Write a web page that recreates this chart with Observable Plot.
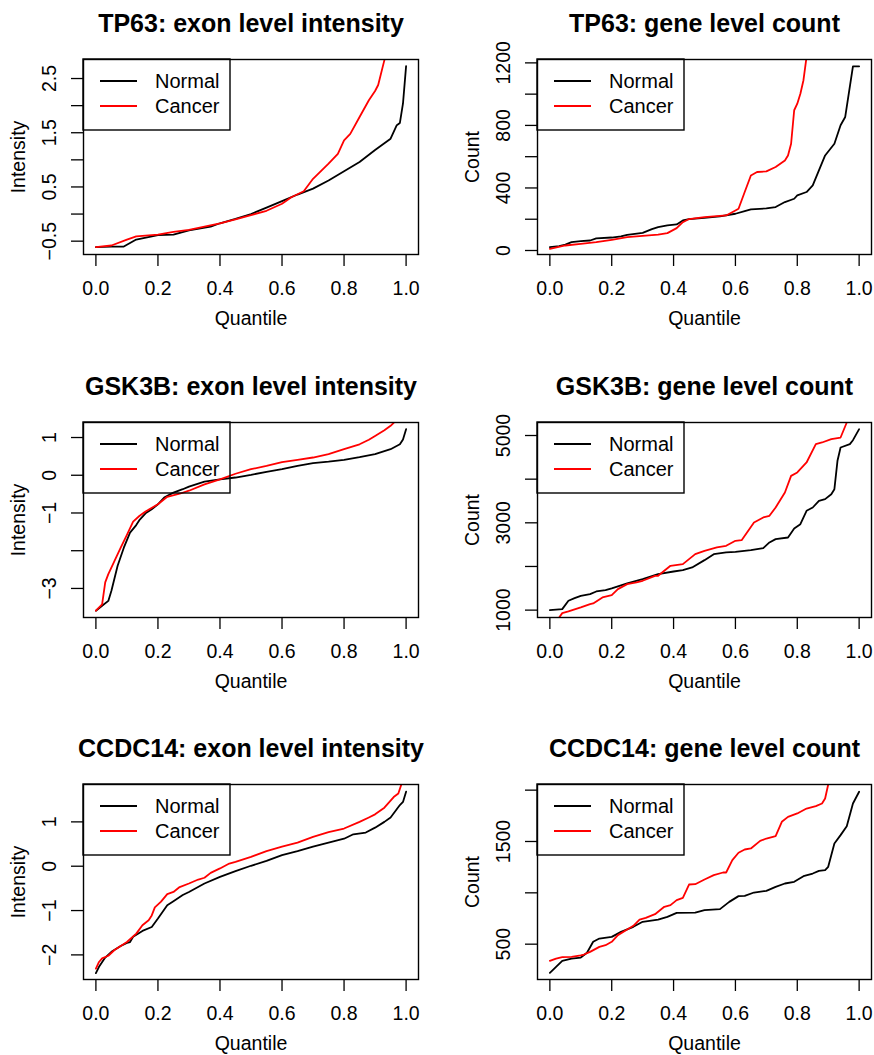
<!DOCTYPE html>
<html>
<head>
<meta charset="utf-8">
<script src="https://cdn.jsdelivr.net/npm/d3@7"></script>
<script src="https://cdn.jsdelivr.net/npm/@observablehq/plot@0.6"></script>
<style>
  html, body { margin: 0; padding: 0; background: #fff; }
  #wrap { position: relative; width: 874px; height: 1055px; overflow: hidden; background: #fff; }
  #wrap svg { position: absolute; }
</style>
</head>
<body>
<div id="wrap"></div>
<script>
// ---------- data ----------
const seriesNames = ["Normal", "Cancer"];
const seriesColors = ["#000000", "#ff0000"];
const xTicks = [0, 0.2, 0.4, 0.6, 0.8, 1.0];

// TP63 exon level intensity
const tp63ExonNormalQ = [0,0.05,0.09,0.13,0.2,0.25,0.3,0.37,0.4,0.45,0.5,0.55,0.6,0.65,0.7,0.75,0.8,0.85,0.9,0.95,0.97,0.98,0.99,1.0];
const tp63ExonNormal  = [-0.61,-0.6,-0.6,-0.47,-0.39,-0.38,-0.3,-0.23,-0.17,-0.09,0.0,0.12,0.24,0.36,0.47,0.62,0.79,0.96,1.18,1.39,1.64,1.68,2.04,2.73];
const tp63ExonCancerQ = [0,0.05,0.1,0.13,0.2,0.25,0.3,0.35,0.4,0.45,0.5,0.55,0.6,0.63,0.67,0.7,0.75,0.78,0.8,0.82,0.85,0.88,0.9,0.91,0.93,0.96,1.0];
const tp63ExonCancer  = [-0.61,-0.58,-0.47,-0.41,-0.38,-0.33,-0.29,-0.23,-0.17,-0.1,-0.02,0.06,0.19,0.31,0.42,0.65,0.93,1.11,1.36,1.48,1.79,2.1,2.27,2.38,2.84,3.3,4.0];

// TP63 gene level count
const tp63CountNormalQ = [0,0.03,0.05,0.07,0.1,0.13,0.15,0.2,0.23,0.25,0.3,0.33,0.35,0.38,0.41,0.43,0.45,0.5,0.55,0.6,0.63,0.65,0.7,0.73,0.76,0.79,0.8,0.83,0.85,0.87,0.89,0.92,0.94,0.955,0.98,1.0];
const tp63CountNormal  = [21,28,38,53,60,64,77,83,90,100,113,137,149,160,167,192,201,209,218,235,252,263,269,278,310,331,352,374,416,512,608,683,801,854,1178,1178];
const tp63CountCancerQ = [0,0.05,0.1,0.15,0.2,0.25,0.3,0.35,0.38,0.41,0.43,0.45,0.5,0.57,0.6,0.61,0.63,0.65,0.67,0.7,0.73,0.76,0.77,0.78,0.79,0.8,0.81,0.82,0.83,0.9,1.0];
const tp63CountCancer  = [11,32,43,53,68,85,94,102,111,143,181,201,213,224,256,267,374,480,502,506,534,576,608,683,897,939,1003,1089,1238,1600,2100];

// GSK3B exon level intensity
const gsk3bExonNormalQ = [0,0.02,0.04,0.05,0.07,0.09,0.11,0.13,0.14,0.16,0.18,0.2,0.22,0.25,0.28,0.3,0.35,0.4,0.45,0.5,0.55,0.6,0.65,0.7,0.75,0.8,0.85,0.9,0.95,0.98,0.99,1.0];
const gsk3bExonNormal  = [-3.59,-3.46,-3.33,-3.06,-2.4,-1.92,-1.52,-1.32,-1.19,-1.01,-0.9,-0.77,-0.59,-0.46,-0.37,-0.3,-0.17,-0.11,-0.06,0.01,0.09,0.16,0.25,0.32,0.36,0.41,0.48,0.56,0.69,0.82,0.95,1.22];
const gsk3bExonCancerQ = [0,0.02,0.03,0.04,0.06,0.08,0.1,0.12,0.14,0.16,0.2,0.23,0.27,0.3,0.35,0.4,0.45,0.5,0.55,0.6,0.65,0.7,0.75,0.8,0.85,0.88,0.9,0.93,0.95,0.96,1.0];
const gsk3bExonCancer  = [-3.59,-3.42,-2.84,-2.62,-2.27,-1.92,-1.58,-1.23,-1.08,-0.96,-0.77,-0.57,-0.49,-0.41,-0.24,-0.11,0.04,0.16,0.25,0.35,0.41,0.47,0.56,0.69,0.82,0.94,1.04,1.19,1.31,1.39,2.0];

// GSK3B gene level count
const gsk3bCountNormalQ = [0,0.04,0.06,0.08,0.1,0.13,0.15,0.18,0.2,0.25,0.3,0.35,0.4,0.43,0.46,0.5,0.53,0.57,0.6,0.65,0.69,0.71,0.73,0.77,0.79,0.81,0.83,0.85,0.87,0.89,0.91,0.92,0.93,0.94,0.97,0.98,1.0];
const gsk3bCountNormal  = [1000,1023,1214,1275,1328,1366,1427,1458,1496,1611,1710,1824,1885,1916,1977,2145,2282,2321,2336,2374,2420,2550,2626,2664,2870,2969,3275,3351,3504,3542,3656,3771,4420,4725,4802,4893,5145];
const gsk3bCountCancerQ = [0,0.03,0.04,0.06,0.1,0.13,0.14,0.17,0.2,0.22,0.25,0.28,0.3,0.34,0.35,0.39,0.43,0.47,0.5,0.54,0.57,0.6,0.62,0.66,0.69,0.71,0.73,0.76,0.78,0.8,0.83,0.86,0.88,0.91,0.94,0.96,1.0];
const gsk3bCountCancer  = [600,830,931,969,1061,1137,1153,1290,1344,1481,1595,1634,1672,1786,1786,2015,2053,2282,2359,2435,2473,2588,2603,3008,3122,3160,3351,3695,4076,4153,4382,4802,4840,4916,4954,5298,6500];

// CCDC14 exon level intensity
const ccdc14ExonNormalQ = [0,0.01,0.03,0.05,0.08,0.1,0.11,0.12,0.15,0.18,0.2,0.23,0.25,0.28,0.3,0.35,0.4,0.45,0.5,0.55,0.6,0.65,0.7,0.75,0.8,0.83,0.87,0.9,0.93,0.95,0.98,0.99,1.0];
const ccdc14ExonNormal  = [-2.41,-2.27,-2.06,-1.93,-1.8,-1.73,-1.71,-1.59,-1.46,-1.37,-1.18,-0.88,-0.79,-0.65,-0.58,-0.39,-0.24,-0.11,0.01,0.12,0.25,0.34,0.44,0.53,0.62,0.72,0.76,0.87,1.0,1.1,1.38,1.45,1.68];
const ccdc14ExonCancerQ = [0,0.01,0.02,0.04,0.06,0.08,0.1,0.13,0.15,0.17,0.18,0.19,0.21,0.23,0.25,0.27,0.3,0.33,0.35,0.37,0.4,0.43,0.45,0.5,0.55,0.6,0.65,0.7,0.75,0.8,0.85,0.88,0.9,0.93,0.96,0.975,0.985,1.0];
const ccdc14ExonCancer  = [-2.31,-2.16,-2.08,-2.02,-1.89,-1.8,-1.71,-1.52,-1.33,-1.22,-1.11,-0.93,-0.8,-0.63,-0.58,-0.47,-0.39,-0.3,-0.26,-0.15,-0.05,0.06,0.1,0.21,0.34,0.44,0.53,0.66,0.77,0.85,1.0,1.1,1.17,1.32,1.56,1.64,1.85,2.3];

// CCDC14 gene level count
const ccdc14CountNormalQ = [0,0.02,0.04,0.07,0.1,0.12,0.14,0.16,0.2,0.23,0.27,0.3,0.35,0.38,0.41,0.47,0.5,0.55,0.58,0.61,0.63,0.66,0.7,0.73,0.76,0.79,0.82,0.85,0.87,0.89,0.9,0.92,0.94,0.96,0.98,1.0];
const ccdc14CountNormal  = [221,279,338,360,370,416,523,555,571,620,669,718,740,766,805,808,831,841,912,968,971,1003,1019,1058,1091,1107,1162,1188,1214,1221,1253,1481,1562,1649,1870,1984];
const ccdc14CountCancerQ = [0,0.02,0.04,0.07,0.1,0.11,0.13,0.16,0.18,0.2,0.22,0.25,0.27,0.29,0.31,0.34,0.37,0.39,0.41,0.43,0.45,0.47,0.5,0.53,0.56,0.57,0.59,0.61,0.63,0.65,0.68,0.7,0.73,0.75,0.77,0.8,0.83,0.86,0.88,0.89,0.9,1.0];
const ccdc14CountCancer  = [338,360,373,377,390,399,425,474,490,523,588,643,679,740,756,792,864,880,929,951,1081,1084,1130,1172,1198,1198,1318,1390,1422,1432,1506,1529,1552,1692,1740,1773,1821,1844,1870,1919,2055,2600];

// Panel titles, axis labels and y ticks
const panelTitles = ["TP63: exon level intensity", "TP63: gene level count",
                     "GSK3B: exon level intensity", "GSK3B: gene level count",
                     "CCDC14: exon level intensity", "CCDC14: gene level count"];
const yTitles = ["Intensity", "Count", "Intensity", "Count", "Intensity", "Count"];
const xTitle = "Quantile";
const yTickSets = [
  [-0.5, 0, 0.5, 1, 1.5, 2, 2.5],
  [0, 200, 400, 600, 800, 1000, 1200],
  [-3, -2, -1, 0, 1],
  [1000, 2000, 3000, 4000, 5000],
  [-2, -1, 0, 1],
  [500, 1000, 1500, 2000]
];
const yLabelSets = [
  [-0.5, 0.5, 1.5, 2.5],
  [0, 400, 800, 1200],
  [-3, -1, 0, 1],
  [1000, 3000, 5000],
  [-2, -1, 0, 1],
  [500, 1500]
];
const yLabelFormats = [".1f", "d", "d", "d", "d", "d"];
const yDomains = [
  [-0.746, 2.851],
  [-25.6, 1221.6],
  [-3.77, 1.398],
  [831, 5298],
  [-2.555, 1.843],
  [156, 2055]
];
const panelSeries = [
  [[tp63ExonNormalQ, tp63ExonNormal], [tp63ExonCancerQ, tp63ExonCancer]],
  [[tp63CountNormalQ, tp63CountNormal], [tp63CountCancerQ, tp63CountCancer]],
  [[gsk3bExonNormalQ, gsk3bExonNormal], [gsk3bExonCancerQ, gsk3bExonCancer]],
  [[gsk3bCountNormalQ, gsk3bCountNormal], [gsk3bCountCancerQ, gsk3bCountCancer]],
  [[ccdc14ExonNormalQ, ccdc14ExonNormal], [ccdc14ExonCancerQ, ccdc14ExonCancer]],
  [[ccdc14CountNormalQ, ccdc14CountNormal], [ccdc14CountCancerQ, ccdc14CountCancer]]
];

// ---------- drawing ----------
const FONT = "'Liberation Sans', Arial, Helvetica, sans-serif";
const FS = 19.5;
const wrap = document.getElementById("wrap");
const cellW = 437, cellH = 362, rowPitch = 362.5;

function fmtTick(v, f) {
  return d3.format(f)(v).replace("-", "\u2212");
}

panelTitles.forEach((title, i) => {
  const col = i % 2, row = Math.floor(i / 2);
  const ml = col === 0 ? 83 : 100;
  const mr = col === 0 ? 19 : 3;
  const mt = 59, mb = 108;
  const lineMarks = panelSeries[i].map(([qs, vs], s) =>
    Plot.line(qs.map((q, k) => ({q, v: vs[k]})), {
      x: "q", y: "v", stroke: seriesColors[s], strokeWidth: 1.8, clip: true
    })
  );
  const labels = yLabelSets[i].map(v => ({v, t: fmtTick(v, yLabelFormats[i])}));
  const svg = Plot.plot({
    width: cellW, height: cellH,
    marginLeft: ml, marginRight: mr, marginTop: mt, marginBottom: mb,
    x: {domain: [-0.04, 1.04]},
    y: {domain: yDomains[i]},
    style: {fontFamily: FONT, background: "transparent", color: "#000", overflow: "visible"},
    marks: [
      ...lineMarks,
      Plot.frame({stroke: "#000", strokeWidth: 1.4}),
      Plot.axisX({ticks: xTicks, tickSize: 12, tickPadding: 15, tickFormat: d3.format(".1f"),
                  fontSize: FS, strokeWidth: 1.3, label: null}),
      Plot.axisY({ticks: yTickSets[i], tickSize: 12, tickFormat: () => "", strokeWidth: 1.3, label: null}),
      Plot.text(labels, {y: "v", text: "t", frameAnchor: "left", dx: -34, rotate: -90,
                         textAnchor: "middle", lineAnchor: "middle", fontSize: FS, fill: "#000"}),
      Plot.text([title], {frameAnchor: "top", dy: -35.6, textAnchor: "middle", lineAnchor: "middle",
                          fontSize: 25, fontWeight: "bold", fill: "#000"}),
      Plot.text([xTitle], {frameAnchor: "bottom", dy: 64.5, textAnchor: "middle", lineAnchor: "middle",
                           fontSize: FS, fill: "#000"}),
      Plot.text([yTitles[i]], {frameAnchor: "left", dx: -64.5, rotate: -90, textAnchor: "middle",
                               lineAnchor: "middle", fontSize: FS, fill: "#000"})
    ]
  });
  svg.style.left = (col * cellW) + "px";
  svg.style.top = (row * rowPitch) + "px";

  // legend (top-left, transparent background, as in R's legend())
  const g = d3.select(svg).append("g").attr("transform", `translate(${ml},${mt})`);
  g.append("rect").attr("x", 0).attr("y", 0).attr("width", 147).attr("height", 71)
    .attr("fill", "none").attr("stroke", "#000").attr("stroke-width", 1.4);
  seriesNames.forEach((name, s) => {
    const yy = 22 + s * 25;
    g.append("line").attr("x1", 17).attr("x2", 54).attr("y1", yy).attr("y2", yy)
      .attr("stroke", seriesColors[s]).attr("stroke-width", 1.8);
    g.append("text").attr("x", 72).attr("y", yy).attr("dy", "0.36em")
      .attr("text-anchor", "start")
      .attr("font-family", FONT).attr("font-size", 20).attr("fill", "#000").text(name);
  });
  wrap.appendChild(svg);
});
</script>
</body>
</html>
